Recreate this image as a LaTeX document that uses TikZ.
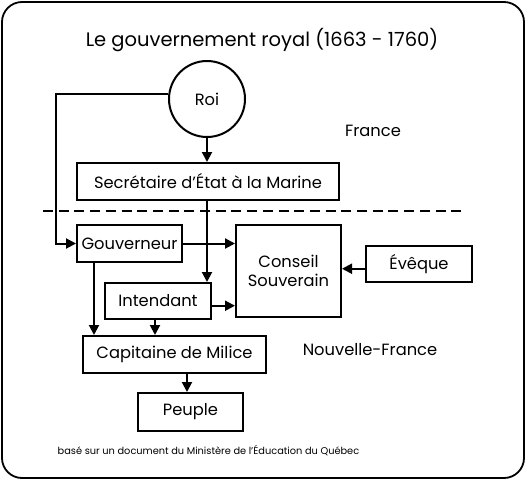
\documentclass[tikz,border=0pt]{standalone}
\usepackage{fontspec}
\setmainfont{Poppins}
\usetikzlibrary{arrows.meta,positioning}

\begin{document}
\begin{tikzpicture}
[x=1pt,y=-1pt,
box/.style={shape=rectangle,draw=black,line width=2pt,inner sep=0pt,font=\fontsize{16.3}{19}\selectfont},
myedge/.style={line width=2pt,-{Triangle[length=10pt,width=10pt]}},
plain/.style={font=\fontsize{16.3}{19}\selectfont}]
%%
\useasboundingbox (0,0) rectangle (528,480);
\draw[line width=1.8pt,rounded corners=20pt] (2,2) rectangle (524,478);
\node (title) [font=\fontsize{19.5}{22}\selectfont] at (262,40) {Le gouvernement royal (1663 - 1760)};
%%
\node (roi) [shape=circle,draw=black,line width=2pt,minimum size=76pt,plain] at (207,99) {Roi};
\node (sec) [box,minimum width=262pt,minimum height=37pt] at (208,181.5) {Secrétaire d’État à la Marine};
\node (gouv) [box,minimum width=105pt,minimum height=37pt] at (129.5,243.5) {Gouverneur};
\node (cons) [box,minimum width=105pt,minimum height=92pt,align=center] at (288.5,271) {Conseil\\Souverain};
\node (eveq) [box,minimum width=106pt,minimum height=36pt] at (419,264) {Évêque};
\node (inten) [box,minimum width=106pt,minimum height=36pt] at (158,301) {Intendant};
\node (cap) [box,minimum width=183pt,minimum height=37pt] at (174.5,354.5) {Capitaine de Milice};
\node (peup) [box,minimum width=105pt,minimum height=38pt] at (190.5,412) {Peuple};
%%
\node (fr) [plain] at (373,131) {France};
\node (nf) [plain] at (370,350) {Nouvelle-France};
\node (src) [font=\fontsize{9.8}{11}\selectfont] at (208.5,451) {basé sur un document du Ministère de l’Éducation du Québec};
\draw[line width=2pt,dash pattern=on 10pt off 5.7pt] (43,211) -- (466,211);
%%
\coordinate (bend) at (56,243.5);
\draw[myedge] (roi.south) -- (roi.south |- sec.north);
\draw[myedge] (roi.172) -| (bend) -- (gouv.west);
\draw[myedge] (gouv.east) -- (gouv.east -| cons.west);
\draw[myedge] (roi |- sec.south) -- (roi |- inten.north);
\draw[myedge] (inten.-5) -- (inten.-5 -| cons.west);
\draw[myedge] (eveq.185) -- (eveq.185 -| cons.east);
\draw[myedge] ([xshift=18pt]gouv.south west) -- ([xshift=18pt]gouv.south west |- cap.north);
\draw[myedge] ([xshift=-3pt]inten.south) -- ([xshift=-3pt]inten.south |- cap.north);
\draw[myedge] ([xshift=-3.5pt]peup.north |- cap.south) -- ([xshift=-3.5pt]peup.north);
%%
\end{tikzpicture}
\end{document}
